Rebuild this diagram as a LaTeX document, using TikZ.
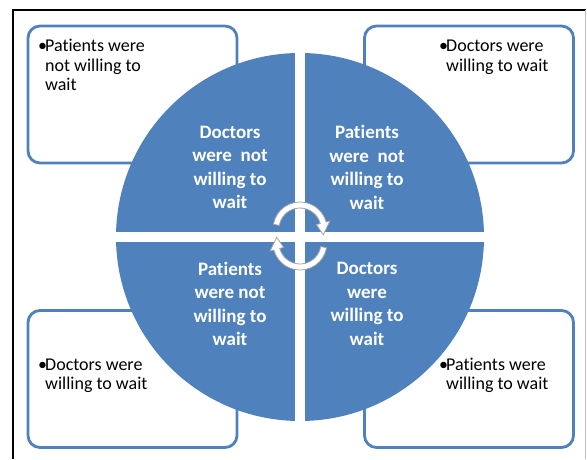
\documentclass[tikz,border=0pt]{standalone}
\usepackage{fontspec}
\setmainfont{Carlito}[Ligatures=NoCommon]
\definecolor{quadblue}{RGB}{79,129,189}
\tikzset{
  infobox/.style={
    rectangle, draw=quadblue, line width=2.8pt, rounded corners=12pt, fill=white,
    minimum width=209pt, minimum height=137pt, inner sep=0pt
  },
  quadtext/.style={align=center, text=white, inner sep=0pt,
    font=\fontsize{19}{23.5}\selectfont\bfseries},
  bullettext/.style={anchor=base west, inner sep=0pt,
    font=\fontsize{18}{19.5}\selectfont},
  turnarrow/.style={fill=white, draw=black!35, line width=0.8pt}
}
\newcommand{\bulletitem}[2]{\makebox[7pt][l]{\textbullet}\parbox[t]{#1}{\raggedright #2}}

\begin{document}
\begin{tikzpicture}[x=1pt, y=1pt]
    \useasboundingbox (0,0) rectangle (587,459);
    % frame
    \draw[line width=1.4pt] (13,0) -- (13,449) -- (585.5,449);
    \draw[black!25, line width=1pt] (585.5,449) -- (585.5,0);
    % boxes behind the circle
    \node[infobox] (bTL) at (132.5,364.5) {};
    \node[infobox] (bTR) at (469,364.5) {};
    \node[infobox] (bBL) at (132.5,80) {};
    \node[infobox] (bBR) at (469,80) {};
    \node[bullettext] (tTL) at (38,407) {\bulletitem{160pt}{Patients were\\not willing to\\wait}};
    \node[bullettext] (tTR) at (439,407) {\bulletitem{130pt}{Doctors were\\willing to wait}};
    \node[bullettext] (tBL) at (38,89) {\bulletitem{130pt}{Doctors were\\willing to wait}};
    \node[bullettext] (tBR) at (439,89) {\bulletitem{130pt}{Patients were\\willing to wait}};
    % the four quarters
    \begin{scope}
      \clip (300,222) circle (184pt);
      \fill[quadblue] (100,227) rectangle (295,420);
      \fill[quadblue] (305,227) rectangle (500,420);
      \fill[quadblue] (100,217) rectangle (295,20);
      \fill[quadblue] (305,217) rectangle (500,20);
    \end{scope}
    \node[quadtext] (qTL) at (230,291.5) {Doctors\\were~~not\\willing to\\wait};
    \node[quadtext] (qTR) at (367,291.5) {Patients\\were~~not\\willing to\\wait};
    \node[quadtext] (qBL) at (230,155) {Patients\\were not\\willing to\\wait};
    \node[quadtext] (qBR) at (367,155) {Doctors\\were\\willing to\\wait};
    % turning arrows
    \begin{scope}[shift={(300,230)}]
      \filldraw[turnarrow] (170:27pt) arc[start angle=170, end angle=15, radius=27pt]
        -- (15:31pt) -- (-14:24pt) -- (15:17pt) -- (15:21pt)
        arc[start angle=15, end angle=170, radius=21pt] -- cycle;
    \end{scope}
    \begin{scope}[shift={(300,216)}]
      \filldraw[turnarrow] (-10:27pt) arc[start angle=-10, end angle=-165, radius=27pt]
        -- (-165:31pt) -- (166:24pt) -- (-165:17pt) -- (-165:21pt)
        arc[start angle=-165, end angle=-10, radius=21pt] -- cycle;
    \end{scope}
\end{tikzpicture}
\end{document}
